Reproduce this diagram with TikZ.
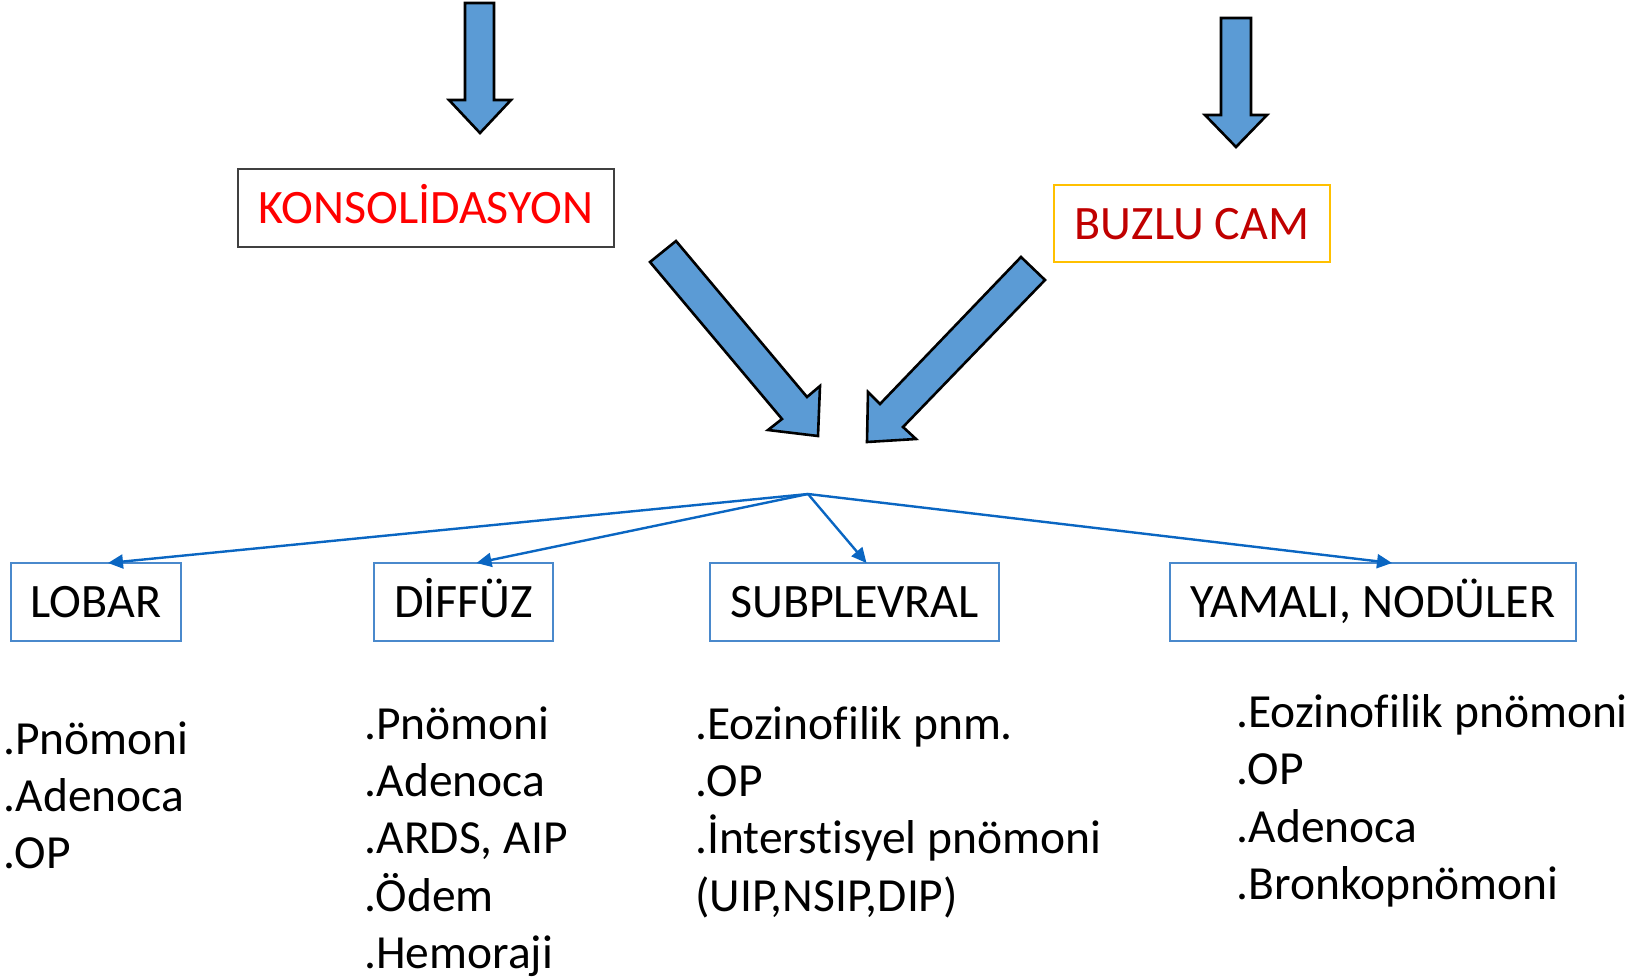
\documentclass[tikz,border=0pt]{standalone}
\usepackage{fontspec}
\setmainfont{Carlito}[Ligatures=NoCommon]
\usetikzlibrary{arrows.meta}
\definecolor{arrowfill}{HTML}{5B9BD5}
\definecolor{boxblue}{HTML}{4A89CC}
\definecolor{linkblue}{HTML}{0A66C2}
\definecolor{konsred}{HTML}{FF0000}
\definecolor{buzred}{HTML}{C00000}
\definecolor{buzyellow}{HTML}{FFC000}
\definecolor{konsgrey}{HTML}{404040}
\tikzset{
  bigarrow/.style={fill=arrowfill, draw=black, line width=1.3pt, line join=miter},
  topbox/.style={draw, line width=0.7pt, inner sep=0pt, outer sep=0pt, text height=15.5pt, text depth=0pt, font=\fontsize{24}{28}\selectfont},
  catbox/.style={draw=boxblue, line width=0.75pt, inner sep=0pt, outer sep=0pt, minimum height=39pt, text height=15.5pt, text depth=0pt, font=\fontsize{24}{28}\selectfont},
  listline/.style={anchor=base west, inner sep=0pt, font=\fontsize{23.75}{28}\selectfont},
  link/.style={draw=linkblue, line width=1.2pt, -{Triangle[length=7.5pt,width=7pt]}}
}
\begin{document}
\begin{tikzpicture}[x=0.5pt, y=-0.5pt]
\useasboundingbox (0,0) rectangle (1639,980);

% big block arrows
\draw[bigarrow] (465,3) -- (494,3) -- (494,100) -- (511,100) -- (480,133) -- (449,100) -- (465,100) -- cycle;
\draw[bigarrow] (1221,18) -- (1251,18) -- (1251,115) -- (1267,115) -- (1236,147) -- (1205,115) -- (1221,115) -- cycle;
\draw[bigarrow] (676,241) -- (807,397) -- (820,386) -- (818,436) -- (768,430) -- (782,419) -- (650,262) -- cycle;
\draw[bigarrow] (1021,257) -- (880,404) -- (868,392) -- (867,442) -- (916,439) -- (903,427) -- (1045,280) -- cycle;

% top boxes
\node[topbox, draw=konsgrey, text=konsred, minimum width=188pt, minimum height=39pt] (kons) at (426,208) {KONSOLİDASYON};
\node[topbox, draw=buzyellow, text=buzred, minimum width=138pt, minimum height=38.5pt] (buz) at (1192,223.5) {BUZLU CAM};

% hub
\coordinate (hub) at (808,494);

% category boxes
\node[catbox, minimum width=85pt] (lobar) at (96,602) {LOBAR};
\node[catbox, minimum width=89.5pt] (diffuz) at (463.5,602) {DİFFÜZ};
\node[catbox, minimum width=144.5pt] (subp) at (854.5,602) {SUBPLEVRAL};
\node[catbox, minimum width=203pt] (yamali) at (1373,602) {YAMALI, NODÜLER};

\draw[link] (hub) -- ([xshift=6pt]lobar.north);
\draw[link] (hub) -- ([xshift=6.5pt]diffuz.north);
\draw[link] (hub) -- ([xshift=6pt]subp.north);
\draw[link] (hub) -- ([xshift=9.5pt]yamali.north);

% lists
\node[listline] (l1) at (3,754) {.Pnömoni};
\node[listline] (l2) at (3,811) {.Adenoca};
\node[listline] (l3) at (3,868) {.OP};

\node[listline] (d1) at (364,739) {.Pnömoni};
\node[listline] (d2) at (364,796) {.Adenoca};
\node[listline] (d3) at (364,853) {.ARDS, AIP};
\node[listline] (d4) at (364,911) {.Ödem};
\node[listline] (d5) at (364,968) {.Hemoraji};

\node[listline] (s1) at (695,739) {.Eozinofilik pnm.};
\node[listline] (s2) at (695,796) {.OP};
\node[listline] (s3) at (695,853) {.İnterstisyel pnömoni};
\node[listline] (s4) at (695,911) {(UIP,NSIP,DIP)};

\node[listline] (y1) at (1236,727) {.Eozinofilik pnömoni};
\node[listline] (y2) at (1236,784) {.OP};
\node[listline] (y3) at (1236,842) {.Adenoca};
\node[listline] (y4) at (1236,899) {.Bronkopnömoni};
\end{tikzpicture}
\end{document}
